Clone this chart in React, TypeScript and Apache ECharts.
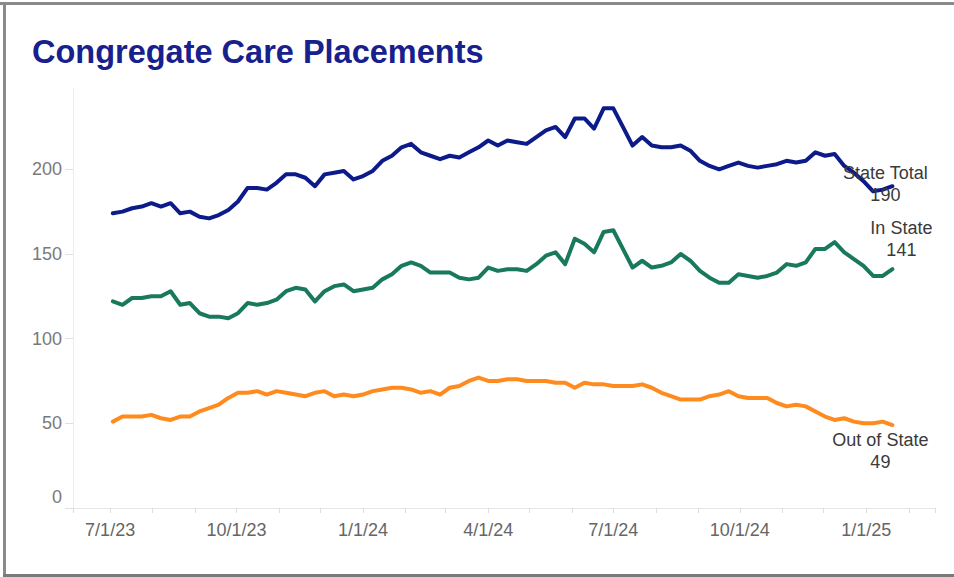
import React, { useEffect, useRef } from "react";
import * as echarts from "echarts";

const weekDates = [
  "2023-07-03", "2023-07-10", "2023-07-17", "2023-07-24", "2023-07-31", "2023-08-07", "2023-08-14", "2023-08-21",
  "2023-08-28", "2023-09-04", "2023-09-11", "2023-09-18", "2023-09-25", "2023-10-02", "2023-10-09", "2023-10-16",
  "2023-10-23", "2023-10-30", "2023-11-06", "2023-11-13", "2023-11-20", "2023-11-27", "2023-12-04", "2023-12-11",
  "2023-12-18", "2023-12-25", "2024-01-01", "2024-01-08", "2024-01-15", "2024-01-22", "2024-01-29", "2024-02-05",
  "2024-02-12", "2024-02-19", "2024-02-26", "2024-03-04", "2024-03-11", "2024-03-18", "2024-03-25", "2024-04-01",
  "2024-04-08", "2024-04-15", "2024-04-22", "2024-04-29", "2024-05-06", "2024-05-13", "2024-05-20", "2024-05-27",
  "2024-06-03", "2024-06-10", "2024-06-17", "2024-06-24", "2024-07-01", "2024-07-08", "2024-07-15", "2024-07-22",
  "2024-07-29", "2024-08-05", "2024-08-12", "2024-08-19", "2024-08-26", "2024-09-02", "2024-09-09", "2024-09-16",
  "2024-09-23", "2024-09-30", "2024-10-07", "2024-10-14", "2024-10-21", "2024-10-28", "2024-11-04", "2024-11-11",
  "2024-11-18", "2024-11-25", "2024-12-02", "2024-12-09", "2024-12-16", "2024-12-23", "2024-12-30", "2025-01-06",
  "2025-01-13", "2025-01-20",
];

const stateTotal = [
  174, 175, 177, 178, 180, 178, 180, 174, 175, 172, 171, 173, 176, 181, 189, 189,
  188, 192, 197, 197, 195, 190, 197, 198, 199, 194, 196, 199, 205, 208, 213, 215,
  210, 208, 206, 208, 207, 210, 213, 217, 214, 217, 216, 215, 219, 223, 225, 219,
  230, 230, 224, 236, 236, 225, 214, 219, 214, 213, 213, 214, 211, 205, 202, 200,
  202, 204, 202, 201, 202, 203, 205, 204, 205, 210, 208, 209, 202, 198, 193, 187,
  188, 190,
];

const inState = [
  122, 120, 124, 124, 125, 125, 128, 120, 121, 115, 113, 113, 112, 115, 121, 120,
  121, 123, 128, 130, 129, 122, 128, 131, 132, 128, 129, 130, 135, 138, 143, 145,
  143, 139, 139, 139, 136, 135, 136, 142, 140, 141, 141, 140, 144, 149, 151, 144,
  159, 156, 151, 163, 164, 153, 142, 146, 142, 143, 145, 150, 146, 140, 136, 133,
  133, 138, 137, 136, 137, 139, 144, 143, 145, 153, 153, 157, 151, 147, 143, 137,
  137, 141,
];

const outOfState = [
  51, 54, 54, 54, 55, 53, 52, 54, 54, 57, 59, 61, 65, 68, 68, 69,
  67, 69, 68, 67, 66, 68, 69, 66, 67, 66, 67, 69, 70, 71, 71, 70,
  68, 69, 67, 71, 72, 75, 77, 75, 75, 76, 76, 75, 75, 75, 74, 74,
  71, 74, 73, 73, 72, 72, 72, 73, 71, 68, 66, 64, 64, 64, 66, 67,
  69, 66, 65, 65, 65, 62, 60, 61, 60, 57, 54, 52, 53, 51, 50, 50,
  51, 49,
];

const seriesNames = ["State Total", "In State", "Out of State"];
const seriesColors = ["#0c1a8a", "#18795d", "#ff8b1f"];
const yTicks = [0, 50, 100, 150, 200];

const FONT = "'Liberation Sans', Arial, sans-serif";

export default function App() {
  const ref = useRef<HTMLDivElement>(null);

  useEffect(() => {
    if (!ref.current) return;
    const chart = echarts.init(ref.current, null, { renderer: "svg" });
    const allSeries = [stateTotal, inState, outOfState];
    const labelOffsets = [
      [-7, -2],
      [9, -30],
      [-12, 26],
    ];

    chart.setOption({
      animation: false,
      backgroundColor: "#ffffff",
      title: {
        text: "Congregate Care Placements",
        left: 32,
        top: 35,
        padding: 0,
        textStyle: {
          fontFamily: FONT,
          fontSize: 32.5,
          fontWeight: "bold",
          color: "#17208c",
        },
      },
      graphic: [
        { type: "rect", shape: { x: 0, y: 2, width: 954, height: 3 }, style: { fill: "#8a8a8a" } },
        { type: "rect", shape: { x: 3, y: 2, width: 3, height: 575 }, style: { fill: "#8a8a8a" } },
        { type: "rect", shape: { x: 3, y: 574, width: 951, height: 3 }, style: { fill: "#7a7a7a" } },
      ],
      grid: { left: 73, right: 19, top: 88, bottom: 69, containLabel: false },
      xAxis: {
        type: "time",
        min: new Date(2023, 5, 4).getTime(),
        max: new Date(2025, 1, 20).getTime(),
        minInterval: 28 * 86400000,
        maxInterval: 31 * 86400000,
        splitLine: { show: false },
        axisLine: { show: true, lineStyle: { color: "#e6e6e6", width: 1 } },
        axisTick: { show: true, length: 5, lineStyle: { color: "#dcdcdc" } },
        axisLabel: {
          margin: 13,
          fontFamily: FONT,
          fontSize: 18,
          color: "#666666",
          hideOverlap: false,
          showMinLabel: true,
          showMaxLabel: true,
          formatter: (val: number) => {
            const d = new Date(val);
            const m = d.getMonth();
            if (d.getDate() === 1 && m % 3 === 0 && d.getHours() === 0) {
              return `${m + 1}/1/${String(d.getFullYear()).slice(2)}`;
            }
            return "";
          },
        },
      },
      yAxis: {
        type: "value",
        min: 0,
        max: 248,
        interval: 50,
        splitLine: { show: false },
        axisLine: { show: true, lineStyle: { color: "#ececec", width: 1 } },
        axisTick: { show: true, length: 8, lineStyle: { color: "#e0e0e0" } },
        axisLabel: {
          showMaxLabel: false,
          margin: 11,
          fontFamily: FONT,
          fontSize: 18,
          color: "#7a7a7a",
          formatter: (v: number) => {
            if (!yTicks.includes(v)) return "";
            return v === 0 ? "{z|0}" : String(v);
          },
          rich: {
            z: {
              fontFamily: FONT,
              fontSize: 18,
              color: "#7a7a7a",
              padding: [0, 0, 22, 0],
            },
          },
        },
      },
      series: allSeries.map((vals, si) => ({
        name: seriesNames[si],
        type: "line",
        data: weekDates.map((d, i) => [d, vals[i]]),
        symbol: "none",
        smooth: false,
        lineStyle: { color: seriesColors[si], width: 4, join: "round", cap: "round" },
        itemStyle: { color: seriesColors[si] },
        endLabel: {
          show: true,
          distance: 0,
          align: "center",
          verticalAlign: "middle",
          offset: labelOffsets[si],
          fontFamily: FONT,
          fontSize: 18,
          lineHeight: 22,
          color: "#3a3a3a",
          formatter: (p: any) => `${p.seriesName}\n${p.value[1]}`,
        },
      })),
    });

    return () => chart.dispose();
  }, []);

  return (
    <div
      ref={ref}
      style={{ position: "fixed", left: 0, top: 0, width: 954, height: 577, background: "#fff" }}
    />
  );
}
